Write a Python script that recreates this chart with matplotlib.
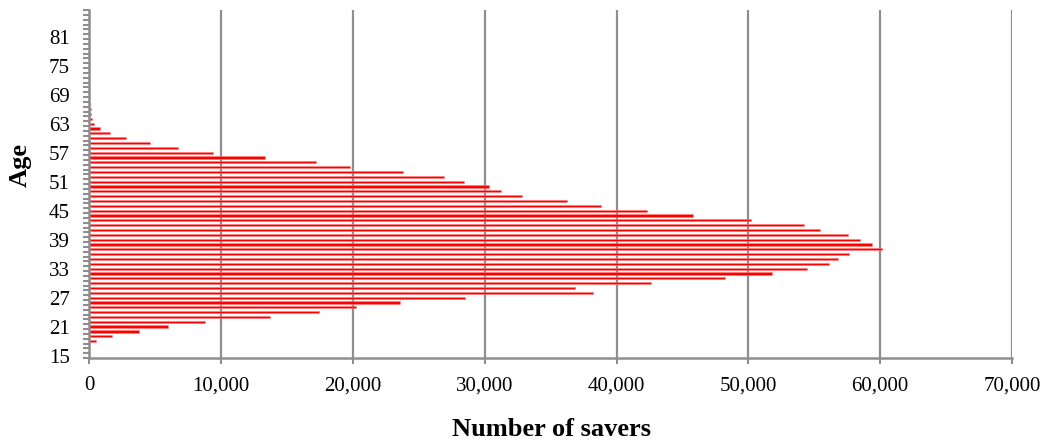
import numpy as np
import matplotlib

matplotlib.use("Agg")
import matplotlib.pyplot as plt  # noqa: E402
from matplotlib.ticker import FuncFormatter, FixedLocator  # noqa: E402

# number of savers by age
ages = list(range(18, 68))
savers = [
    470, 1710, 3780, 5960, 8740, 13670, 17390, 20220, 23540, 28470,   # 18-27
    38180, 36860, 42600, 48240, 51760, 54460, 56080, 56770, 57600, 60150,  # 28-37
    59350, 58480, 57530, 55430, 54230, 50170, 45810, 42300, 38800, 36200,  # 38-47
    32840, 31230, 30290, 28400, 26880, 23780, 19760, 17180, 13300, 9350,   # 48-57
    6690, 4570, 2750, 1530, 770, 360, 210, 110, 90, 70,                   # 58-67
]
age_labels = list(range(15, 82, 6))
x_ticks = list(range(0, 70001, 10000))

plt.rcParams["font.family"] = ["Liberation Serif", "DejaVu Serif"]
grey = "#8e8e8e"

fig = plt.figure(figsize=(10.49, 4.45), dpi=100)
ax = fig.add_axes([0.0853, 0.1955, 0.8794, 0.782])

ax.barh(ages, savers, height=0.45, color="#ff0000", edgecolor="#ff8080",
        linewidth=0.4, zorder=3)

ax.set_xlim(0, 70000)
ax.set_ylim(14.5, 86.5)
ax.set_xticks(x_ticks)
ax.xaxis.set_major_formatter(FuncFormatter(lambda v, _: f"{int(v):,}"))
ax.grid(axis="x", color=grey, linewidth=1.6, zorder=1)

ax.yaxis.set_major_locator(FixedLocator(age_labels))
ax.yaxis.set_minor_locator(FixedLocator(np.arange(14.5, 87, 1.0)))
ax.tick_params(axis="y", which="major", length=0, pad=14, labelsize=15)
ax.tick_params(axis="y", which="minor", length=4.5, width=1.5, color=grey)
ax.tick_params(axis="x", which="major", length=4, width=1.5, color=grey,
               pad=9, labelsize=15)

for side in ("top", "right"):
    ax.spines[side].set_visible(False)
for side in ("left", "bottom"):
    ax.spines[side].set_color(grey)
    ax.spines[side].set_linewidth(1.8)
    ax.spines[side].set_zorder(4)

fig.text(20 / 1049, 1 - 165 / 445, "Age", rotation=90, ha="center",
         va="center", fontsize=19, fontweight="bold")
fig.text(551 / 1049, 1 - 430 / 445, "Number of savers", ha="center",
         va="center", fontsize=19, fontweight="bold")

fig.savefig("out.png")
plt.close(fig)
